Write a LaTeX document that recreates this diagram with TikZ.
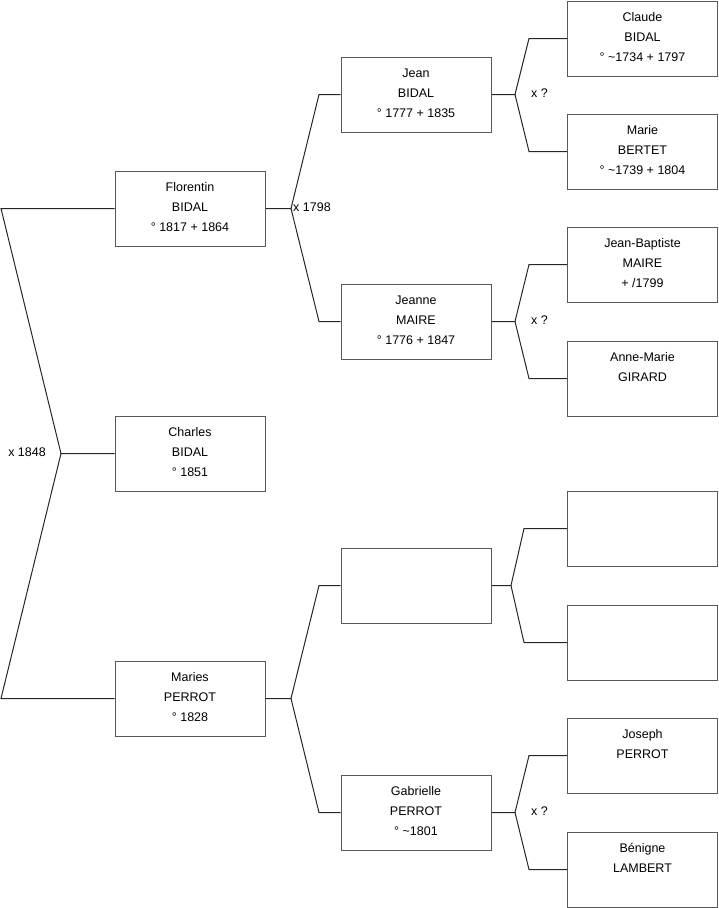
\documentclass[tikz,border=0pt]{standalone}
\usepackage{fontspec}
\setmainfont{Liberation Sans}
\usetikzlibrary{positioning}
\tikzset{
  fiche/.style={draw=black!65, line width=1pt, minimum width=150pt, minimum height=75pt, inner sep=0pt},
  nom/.style={inner sep=0pt, align=center, font=\fontsize{12.5}{20}\selectfont},
  lien/.style={draw=black!85, line width=1pt},
  union/.style={inner sep=0pt, anchor=base west, font=\fontsize{12.5}{15}\selectfont},
}
\begin{document}
\begin{tikzpicture}[x=1pt, y=-1pt]
\useasboundingbox (0,0) rectangle (719,908);

% generation 1
\node[fiche] (charles) at (190,453.5) {};
\node[nom, below=6.5pt of charles.north] {\strut Charles\\BIDAL\\° 1851};

% generation 2
\node[fiche] (florentin) at (190,208.5) {};
\node[nom, below=6.5pt of florentin.north] {\strut Florentin\\BIDAL\\° 1817 + 1864};
\node[fiche] (maries) at (190,698.5) {};
\node[nom, below=6.5pt of maries.north] {\strut Maries\\PERROT\\° 1828};

% generation 3
\node[fiche] (jean) at (416,94.5) {};
\node[nom, below=6.5pt of jean.north] {\strut Jean\\BIDAL\\° 1777 + 1835};
\node[fiche] (jeanne) at (416,321.5) {};
\node[nom, below=6.5pt of jeanne.north] {\strut Jeanne\\MAIRE\\° 1776 + 1847};
\node[fiche] (inconnu) at (416,585.5) {};
\node[fiche] (gabrielle) at (416,812.5) {};
\node[nom, below=6.5pt of gabrielle.north] {\strut Gabrielle\\PERROT\\° \textasciitilde1801};

% generation 4
\node[fiche] (claude) at (642.5,38.5) {};
\node[nom, below=6.5pt of claude.north] {\strut Claude\\BIDAL\\° \textasciitilde1734 + 1797};
\node[fiche] (marie) at (642.5,151.5) {};
\node[nom, below=6.5pt of marie.north] {\strut Marie\\BERTET\\° \textasciitilde1739 + 1804};
\node[fiche] (jeanbaptiste) at (642.5,264.5) {};
\node[nom, below=6.5pt of jeanbaptiste.north] {\strut Jean-Baptiste\\MAIRE\\+ /1799};
\node[fiche] (annemarie) at (642.5,378.5) {};
\node[nom, below=6.5pt of annemarie.north] {\strut Anne-Marie\\GIRARD};
\node[fiche] (inconnu1) at (642.5,528.5) {};
\node[fiche] (inconnu2) at (642.5,642.5) {};
\node[fiche] (joseph) at (642.5,755.5) {};
\node[nom, below=6.5pt of joseph.north] {\strut Joseph\\PERROT};
\node[fiche] (benigne) at (642.5,869.5) {};
\node[nom, below=6.5pt of benigne.north] {\strut Bénigne\\LAMBERT};

% unions
\coordinate (u1848) at (61,453.5);
\draw[lien] (charles.west) -- (u1848) -- (1,208.5) -- (florentin.west);
\draw[lien] (u1848) -- (1,698.5) -- (maries.west);
\node[inner sep=0pt, anchor=base east, font=\fontsize{12.5}{15}\selectfont] (x1848) at (46,456) {x 1848};

\coordinate (u1798) at (291,208.5);
\draw[lien] (florentin.east) -- (u1798) -- (319,94.5) -- (jean.west);
\draw[lien] (u1798) -- (319,321.5) -- (jeanne.west);
\node[union] (x1798) at (293,211.7) {x 1798};

\coordinate (uperrot) at (291,698.5);
\draw[lien] (maries.east) -- (uperrot) -- (319,585.5) -- (inconnu.west);
\draw[lien] (uperrot) -- (319,812.5) -- (gabrielle.west);

\coordinate (ubidal) at (515,94.5);
\draw[lien] (jean.east) -- (ubidal) -- (529,38.5) -- (claude.west);
\draw[lien] (ubidal) -- (529,151.5) -- (marie.west);
\node[union] (xbidal) at (531,97.5) {x ?};

\coordinate (umaire) at (515,321.5);
\draw[lien] (jeanne.east) -- (umaire) -- (529,264.5) -- (jeanbaptiste.west);
\draw[lien] (umaire) -- (529,378.5) -- (annemarie.west);
\node[union] (xmaire) at (531,324.5) {x ?};

\coordinate (uinconnu) at (511,585.5);
\draw[lien] (inconnu.east) -- (uinconnu) -- (524,528.5) -- (inconnu1.west);
\draw[lien] (uinconnu) -- (524,642.5) -- (inconnu2.west);

\coordinate (ugabrielle) at (515,812.5);
\draw[lien] (gabrielle.east) -- (ugabrielle) -- (529,755.5) -- (joseph.west);
\draw[lien] (ugabrielle) -- (529,869.5) -- (benigne.west);
\node[union] (xperrot) at (531,815.5) {x ?};
\end{tikzpicture}
\end{document}
